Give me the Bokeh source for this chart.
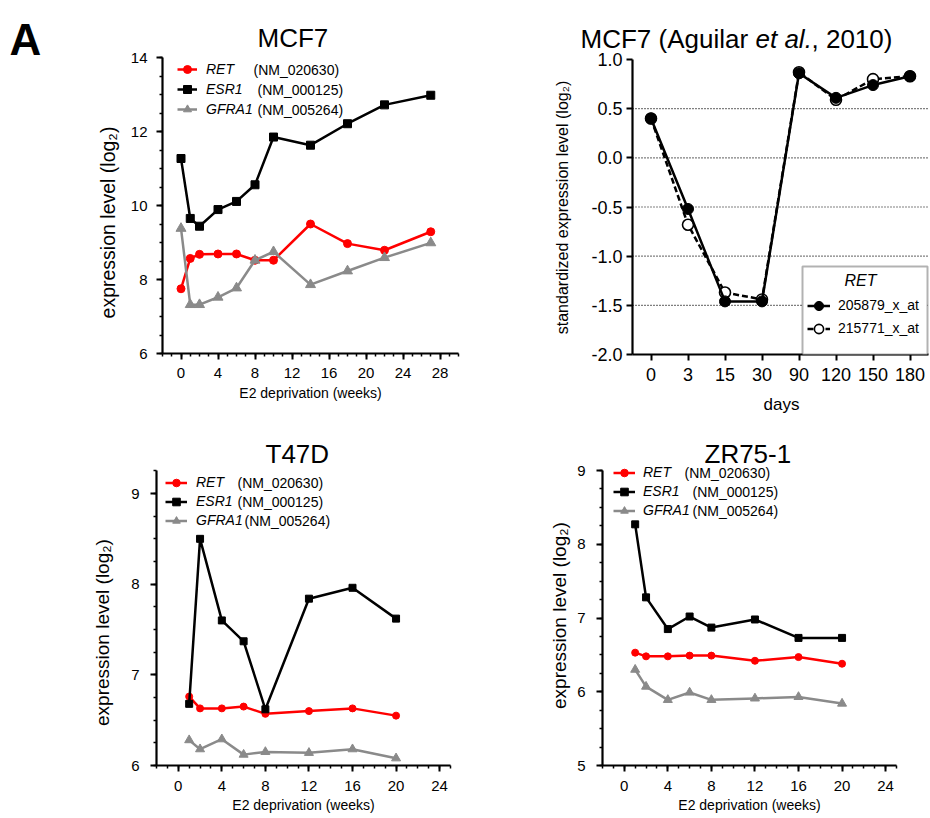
import math
from bokeh.plotting import figure
from bokeh.core.properties import value
from bokeh.models import (Range1d, SingleIntervalTicker, FixedTicker, Legend, LegendItem,
                          Label, BoxAnnotation, PrintfTickFormatter)
from bokeh.layouts import column, row
from bokeh.embed import file_html
from bokeh.resources import INLINE

FONT = "Liberation Sans"

# ---------------- data ----------------
mcf7_weeks = [0, 1, 2, 4, 6, 8, 10, 14, 18, 22, 27]
mcf7_ret = [7.75, 8.57, 8.68, 8.69, 8.69, 8.52, 8.52, 9.50, 8.97, 8.79, 9.29]
mcf7_esr1 = [11.27, 9.65, 9.44, 9.89, 10.11, 10.56, 11.85, 11.63, 12.21, 12.72, 12.98]
mcf7_gfra1 = [9.38, 7.32, 7.32, 7.52, 7.77, 8.52, 8.75, 7.86, 8.23, 8.59, 8.99]

aguilar_days = ["0", "3", "15", "30", "90", "120", "150", "180"]
ret_205879 = [0.40, -0.52, -1.46, -1.46, 0.86, 0.61, 0.74, 0.83]
ret_215771 = [0.40, -0.68, -1.37, -1.44, 0.87, 0.59, 0.80, 0.83]
aguilar_grid = [-1.5, -1.0, -0.5, 0.0, 0.5]

t47d_weeks = [1, 2, 4, 6, 8, 12, 16, 20]
t47d_ret = [6.76, 6.63, 6.63, 6.65, 6.57, 6.60, 6.63, 6.55]
t47d_esr1 = [6.68, 8.50, 7.60, 7.37, 6.62, 7.84, 7.96, 7.62]
t47d_gfra1 = [6.28, 6.18, 6.29, 6.12, 6.15, 6.14, 6.18, 6.08]

zr_weeks = [1, 2, 4, 6, 8, 12, 16, 20]
zr_ret = [6.53, 6.48, 6.48, 6.49, 6.49, 6.42, 6.47, 6.38]
zr_esr1 = [8.27, 7.28, 6.85, 7.02, 6.87, 6.98, 6.73, 6.73]
zr_gfra1 = [6.30, 6.07, 5.89, 5.99, 5.89, 5.91, 5.93, 5.84]

genes = ["RET", "ESR1", "GFRA1"]
accessions = ["(NM_020630)", "(NM_000125)", "(NM_005264)"]
probes = ["205879_x_at", "215771_x_at"]

RED = "#ff0000"
BLACK = "#000000"
GRAY = "#8a8a8a"
LW = 2.5


class Panel:
    """A figure whose frame is the whole figure; axes are drawn at fixed data locations."""

    def __init__(self, left, top, width, height, xmap, ymap):
        self.left, self.top, self.width, self.height = left, top, width, height
        self.bottom = top + height
        d0, p0, d1, p1 = xmap
        sx = (p1 - p0) / (d1 - d0)
        xr = Range1d(d0 + (left - p0) / sx, d0 + (left + width - p0) / sx)
        e0, q0, e1, q1 = ymap
        sy = (q0 - q1) / (e1 - e0)
        yr = Range1d(e0 - (self.bottom - q0) / sy, e0 + (q0 - top) / sy)
        p = figure(x_range=xr, y_range=yr, frame_width=width, frame_height=height,
                   min_border=0, output_backend="svg", toolbar_location=None, title=None)
        p.outline_line_color = None
        p.background_fill_color = "white"
        p.border_fill_color = "white"
        p.grid.visible = False
        for ax in (p.xaxis[0], p.yaxis[0]):
            ax.axis_line_width = 2.2
            ax.axis_line_color = BLACK
            ax.major_tick_line_width = 2
            ax.minor_tick_line_width = 1.5
            ax.major_tick_line_color = BLACK
            ax.minor_tick_line_color = BLACK
            ax.major_tick_in = 0
            ax.major_tick_out = 6
            ax.minor_tick_in = 0
            ax.minor_tick_out = 3
            ax.major_label_text_font = FONT
            ax.major_label_text_color = BLACK
        self.p = p

    def label(self, x, y, text, size, style="normal", align="left", baseline="alphabetic",
              angle=0.0):
        self.p.add_layout(Label(x=x - self.left, y=self.bottom - y, x_units="screen",
                                y_units="screen", text=text, text_font=FONT,
                                text_font_size=f"{size}px", text_font_style=style,
                                text_align=align, text_baseline=baseline, angle=angle,
                                text_color=BLACK))

    def legend(self, items, left, top, row_h, glyph_w, standoff, style):
        n = len(items)
        leg = Legend(items=items, location=(left - self.left, self.bottom - (top + n * row_h)),
                     padding=0, margin=0, spacing=0, glyph_width=glyph_w, glyph_height=row_h,
                     label_height=row_h, label_standoff=standoff, border_line_color=None,
                     background_fill_alpha=0, label_text_font=FONT,
                     label_text_font_style=style, label_text_font_size="14px",
                     label_text_color=BLACK)
        self.p.add_layout(leg)


def gene_series(panel, weeks, ret, esr1, gfra1, msize):
    p = panel.p
    out = []
    specs = [(ret, RED, "circle", msize[0]), (esr1, BLACK, "square", msize[1]),
             (gfra1, GRAY, "triangle", msize[2])]
    for (vals, col, mk, sz), g in zip(specs, genes):
        l = p.line(weeks, vals, line_color=col, line_width=LW)
        s = p.scatter(weeks, vals, marker=mk, size=sz, fill_color=col, line_color=col)
        out.append(LegendItem(label=value(g), renderers=[l, s]))
    return out


def week_axes(panel, xb, yb, y_interval, tick_size, xstand, ystand):
    p = panel.p
    p.xaxis.fixed_location = yb[0]
    p.xaxis.bounds = xb
    p.yaxis.fixed_location = xb[0]
    p.yaxis.bounds = yb
    p.xaxis.ticker = SingleIntervalTicker(interval=4, num_minor_ticks=4)
    p.yaxis.ticker = SingleIntervalTicker(interval=y_interval, num_minor_ticks=4)
    p.xaxis.major_label_text_font_size = f"{tick_size}px"
    p.yaxis.major_label_text_font_size = f"{tick_size}px"
    p.xaxis.major_label_standoff = xstand
    p.yaxis.major_label_standoff = ystand


# ---------------- panel 1: MCF7 ----------------
P1 = Panel(0, 0, 468, 428, (-2, 162, 30, 458), (6, 353, 14, 57))
week_axes(P1, (-2, 30), (6, 14), 2, 15, 8, 9)
items1 = gene_series(P1, mcf7_weeks, mcf7_ret, mcf7_esr1, mcf7_gfra1, (8, 8, 10))
P1.legend(items1, 177, 59, 20, 20, 9, "italic")
for acc, (ax_, ay_) in zip(accessions, [(253, 69), (257, 89), (257, 109)]):
    P1.label(ax_, ay_, acc, 14, baseline="middle")
P1.label(107, 222, "expression level (log₂)", 19.5, align="center", baseline="middle",
         angle=math.pi / 2)
P1.label(310, 392, "E2 deprivation (weeks)", 14, align="center", baseline="middle")
P1.label(257, 37, "MCF7", 26)
P1.label(9, 39, "A", 44, style="bold")

# ---------------- panel 2: MCF7 (Aguilar et al., 2010) ----------------
day_pos = list(range(len(aguilar_days)))
P2 = Panel(468, 0, 461, 428, (-0.5, 632, len(aguilar_days) - 0.5, 928), (-2, 354, 1, 59))
p2 = P2.p
xb2 = (-0.5, len(aguilar_days) - 0.5)
p2.xaxis.fixed_location = -2
p2.xaxis.bounds = xb2
p2.yaxis.fixed_location = xb2[0]
p2.yaxis.bounds = (-2, 1)
p2.xaxis.ticker = FixedTicker(ticks=day_pos)
p2.xaxis.major_label_overrides = {i: d for i, d in zip(day_pos, aguilar_days)}
p2.yaxis.ticker = SingleIntervalTicker(interval=0.5, num_minor_ticks=0)
p2.yaxis.formatter = PrintfTickFormatter(format="%.1f")
p2.xaxis.major_label_text_font_size = "18px"
p2.yaxis.major_label_text_font_size = "18px"
p2.xaxis.major_label_standoff = 7
p2.yaxis.major_label_standoff = 4
p2.segment(x0=[xb2[0]] * len(aguilar_grid), x1=[xb2[1]] * len(aguilar_grid),
           y0=aguilar_grid, y1=aguilar_grid, line_color=BLACK, line_width=1.2,
           line_dash="1 2")
l_b = p2.line(day_pos, ret_215771, line_color=BLACK, line_width=LW, line_dash="6 3")
s_b = p2.scatter(day_pos, ret_215771, marker="circle", size=11, fill_color="white",
                 line_color=BLACK, line_width=1.6)
l_a = p2.line(day_pos, ret_205879, line_color=BLACK, line_width=LW)
s_a = p2.scatter(day_pos, ret_205879, marker="circle", size=11, fill_color=BLACK,
                 line_color=BLACK)
p2.add_layout(BoxAnnotation(left=802 - P2.left, right=927 - P2.left,
                            bottom=P2.bottom - 354, top=P2.bottom - 266,
                            left_units="screen", right_units="screen",
                            bottom_units="screen", top_units="screen",
                            fill_color="white", fill_alpha=1.0, line_color=BLACK,
                            line_width=2))
P2.legend([LegendItem(label=value(probes[0]), renderers=[l_a, s_a]),
           LegendItem(label=value(probes[1]), renderers=[l_b, s_b])],
          807, 293.5, 23, 23, 8, "normal")
P2.label(860, 280, "RET", 16, style="italic", align="center", baseline="middle")
P2.label(562, 207, "standardized expression level (log₂)", 16, align="center",
         baseline="middle", angle=math.pi / 2)
P2.label(781, 404, "days", 17, align="center", baseline="middle")
P2.label(580, 38, "MCF7 (Aguilar ", 26)
P2.label(580 + 175, 38, "et al.", 26, style="italic")
P2.label(580 + 175 + 56, 38, ", 2010)", 26)

# ---------------- panel 3: T47D ----------------
P3 = Panel(0, 428, 468, 386, (-2, 156, 25, 450), (6, 765, 9, 493))
week_axes(P3, (-2, 25), (6, 9.25), 1, 15, 9, 11)
items3 = gene_series(P3, t47d_weeks, t47d_ret, t47d_esr1, t47d_gfra1, (7, 7, 9))
P3.legend(items3, 165, 472.5, 19, 22, 9, "italic")
for acc, (ax_, ay_) in zip(accessions, [(237, 482), (237, 501), (244, 520)]):
    P3.label(ax_, ay_, acc, 14, baseline="middle")
P3.label(101.5, 632, "expression level (log₂)", 19, align="center", baseline="middle",
         angle=math.pi / 2)
P3.label(303, 804, "E2 deprivation (weeks)", 14, align="center", baseline="middle")
P3.label(265, 453, "T47D", 26)

# ---------------- panel 4: ZR75-1 ----------------
P4 = Panel(468, 428, 461, 386, (-2, 602, 25, 896), (5, 765, 9, 470))
week_axes(P4, (-2, 25), (5, 9), 1, 15, 9, 11)
items4 = gene_series(P4, zr_weeks, zr_ret, zr_esr1, zr_gfra1, (7, 7, 9))
P4.legend(items4, 613, 462.5, 19, 22, 8, "italic")
for acc, (ax_, ay_) in zip(accessions, [(684, 472), (692, 491), (692, 510)]):
    P4.label(ax_, ay_, acc, 14, baseline="middle")
P4.label(558.5, 615, "expression level (log₂)", 19, align="center", baseline="middle",
         angle=math.pi / 2)
P4.label(749, 804, "E2 deprivation (weeks)", 14, align="center", baseline="middle")
P4.label(704, 453, "ZR75-1", 26)

layout = column(row(P1.p, P2.p), row(P3.p, P4.p))
open("out.html", "w").write(file_html(layout, INLINE))
